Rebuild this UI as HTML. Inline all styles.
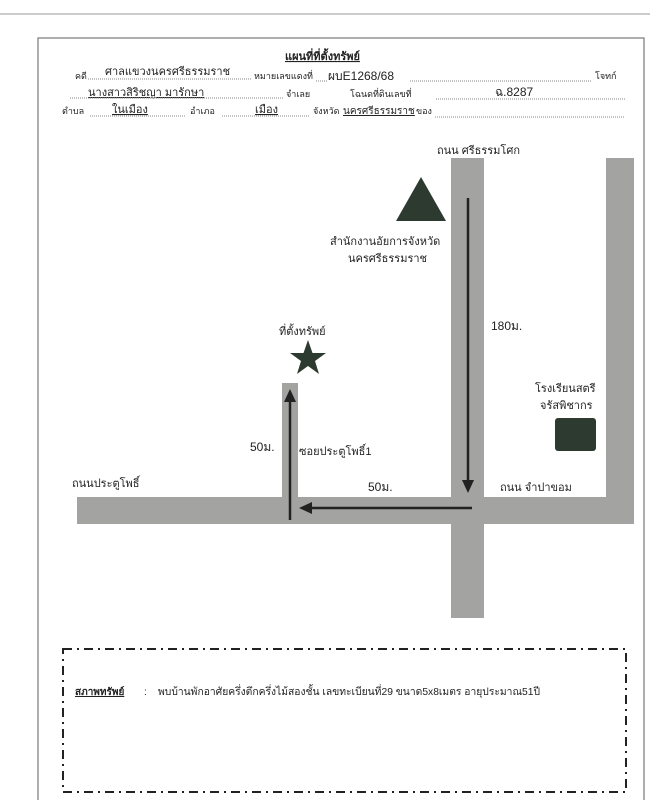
<!DOCTYPE html>
<html><head><meta charset="utf-8"><style>
body{margin:0;background:#fff;width:650px;height:800px;overflow:hidden}
text{font-family:"Liberation Sans","Noto Sans CJK SC",sans-serif;fill:#222}
</style></head><body>
<svg width="650" height="800" viewBox="0 0 650 800" xmlns="http://www.w3.org/2000/svg">
<line x1="0" y1="14" x2="650" y2="14" stroke="#ccc" stroke-width="2"/>
<rect x="38" y="38" width="606" height="770" fill="none" stroke="#777" stroke-width="1.2"/>
<g font-size="10">
<text x="285" y="60" font-size="11" font-weight="bold" text-decoration="underline">แผนที่ที่ตั้งทรัพย์</text>
<text x="75" y="79" font-size="9">คดี</text>
<text x="105" y="75" font-size="11">ศาลแขวงนครศรีธรรมราช</text>
<line x1="88" y1="79" x2="252" y2="79" stroke="#888" stroke-dasharray="1,1"/>
<text x="254" y="79" font-size="9">หมายเลขแดงที่</text>
<text x="328" y="80" font-size="12">ผบE1268/68</text>
<line x1="316" y1="81" x2="328" y2="81" stroke="#888" stroke-dasharray="1,1"/>
<line x1="410" y1="81" x2="592" y2="81" stroke="#888" stroke-dasharray="1,1"/>
<text x="595" y="79" font-size="9">โจทก์</text>
<text x="88" y="96" font-size="11" text-decoration="underline">นางสาวสิริชญา มารักษา</text>
<line x1="70" y1="98" x2="284" y2="98" stroke="#888" stroke-dasharray="1,1"/>
<text x="286" y="97" font-size="9">จำเลย</text>
<text x="350" y="97" font-size="9">โฉนดที่ดินเลขที่</text>
<text x="495" y="96" font-size="12">ฉ.8287</text>
<line x1="436" y1="99" x2="625" y2="99" stroke="#888" stroke-dasharray="1,1"/>
<text x="62" y="114" font-size="9">ตำบล</text>
<text x="112" y="113" font-size="11" text-decoration="underline">ในเมือง</text>
<line x1="90" y1="116" x2="185" y2="116" stroke="#888" stroke-dasharray="1,1"/>
<text x="190" y="114" font-size="9">อำเภอ</text>
<text x="255" y="113" font-size="11" text-decoration="underline">เมือง</text>
<line x1="222" y1="116" x2="310" y2="116" stroke="#888" stroke-dasharray="1,1"/>
<text x="313" y="114" font-size="9">จังหวัด</text>
<text x="343" y="114" font-size="10" text-decoration="underline">นครศรีธรรมราช</text>
<text x="416" y="114" font-size="9">ของ</text>
<line x1="435" y1="117" x2="625" y2="117" stroke="#888" stroke-dasharray="1,1"/>
</g>
<g fill="#a3a3a1">
<rect x="451" y="158" width="33" height="460"/>
<rect x="606" y="158" width="28" height="345"/>
<rect x="77" y="497" width="557" height="27"/>
<rect x="282" y="383" width="16" height="116"/>
</g>
<g stroke="#222" stroke-width="2.5" fill="#222">
<line x1="468" y1="198" x2="468" y2="482"/>
<polygon points="462,480 474,480 468,493" stroke="none"/>
<line x1="472" y1="508" x2="310" y2="508"/>
<polygon points="312,502 312,514 299,508" stroke="none"/>
<line x1="290" y1="520" x2="290" y2="400"/>
<polygon points="284,402 296,402 290,389" stroke="none"/>
</g>
<polygon points="421,177 446,221 396,221" fill="#2d3a30"/>
<polygon points="308,340 312.5,353 326,353 315,361 319,374 308,366 297,374 301,361 290,353 303.5,353" fill="#2d3a30"/>
<rect x="555" y="418" width="41" height="33" rx="3" fill="#2d3a30"/>
<g font-size="11">
<text x="437" y="154">ถนน ศรีธรรมโศก</text>
<text x="330" y="245">สำนักงานอัยการจังหวัด</text>
<text x="348" y="262">นครศรีธรรมราช</text>
<text x="491" y="330" font-size="12">180ม.</text>
<text x="279" y="335">ที่ตั้งทรัพย์</text>
<text x="535" y="392">โรงเรียนสตรี</text>
<text x="540" y="409">จรัสพิชากร</text>
<text x="250" y="451" font-size="12">50ม.</text>
<text x="299" y="455">ซอยประตูโพธิ์1</text>
<text x="72" y="487">ถนนประตูโพธิ์</text>
<text x="368" y="491" font-size="12">50ม.</text>
<text x="500" y="491">ถนน จำปาขอม</text>
</g>
<rect x="63" y="649" width="563" height="143" fill="none" stroke="#222" stroke-width="2" stroke-dasharray="9,5,2,5"/>
<text x="75" y="695" font-size="10" font-weight="bold" text-decoration="underline">สภาพทรัพย์</text>
<text x="144" y="695" font-size="10">:</text>
<text x="158" y="695" font-size="10.5" textLength="382" lengthAdjust="spacingAndGlyphs">พบบ้านพักอาศัยครึ่งตึกครึ่งไม้สองชั้น เลขทะเบียนที่29 ขนาด5x8เมตร อายุประมาณ51ปี</text>
</svg>
</body></html>
